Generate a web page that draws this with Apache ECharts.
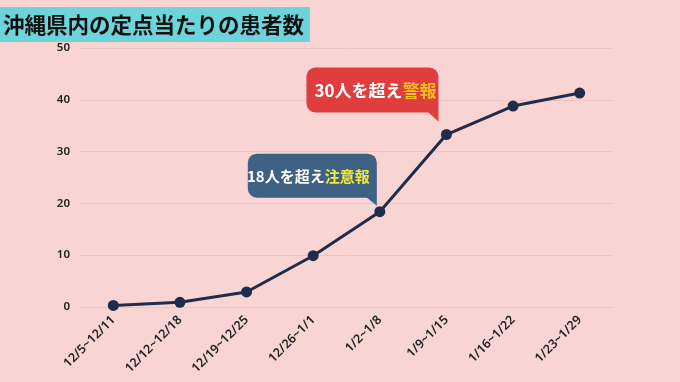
<!DOCTYPE html>
<html><head><meta charset="utf-8">
<script src="https://cdn.jsdelivr.net/npm/echarts@6/dist/echarts.min.js"></script>
<style>html,body{margin:0;padding:0;background:#f8d5d3;}#c{width:680px;height:382px;}</style>
</head><body><div id="c"></div>
<script>
var titleText = '沖縄県内の定点当たりの患者数';
var categories = ['12/5~12/11','12/12~12/18','12/19~12/25','12/26~1/1','1/2~1/8','1/9~1/15','1/16~1/22','1/23~1/29'];
var values = [0.3, 0.9, 2.9, 9.9, 18.4, 33.3, 38.8, 41.3];
var yTicks = {min: 0, max: 50, interval: 10};
var callouts = [
  {index: 4, white: '18人を超え', yellow: '注意報'},
  {index: 5, white: '30人を超え', yellow: '警報'}
];

var chart = echarts.init(document.getElementById('c'), null, {renderer: 'canvas'});
var option = {
  backgroundColor: '#f8d5d3',
  animation: false,
  title: {
    text: titleText, left: 0, top: 7,
    backgroundColor: '#6dd4dc',
    padding: [3, 6, 3, 3],
    textStyle: {fontFamily: '"Noto Sans CJK JP"', fontWeight: 'bold', fontSize: 21.5, color: '#111', lineHeight: 29}
  },
  grid: {left: 80, right: 67, top: 48, bottom: 75},
  xAxis: {
    type: 'category', data: categories, boundaryGap: true,
    axisLine: {show: false}, axisTick: {show: false},
    axisLabel: {rotate: 45, color: '#222', fontSize: 12.5, fontWeight: 600, fontFamily: '"Noto Sans"', margin: 11, interval: 0}
  },
  yAxis: {
    type: 'value', min: yTicks.min, max: yTicks.max, interval: yTicks.interval,
    axisLine: {show: false}, axisTick: {show: false},
    axisLabel: {color: '#222', fontSize: 11.5, fontWeight: 600, fontFamily: '"Noto Sans"', margin: 10},
    splitLine: {lineStyle: {color: '#efc5c3', width: 1}}
  },
  series: [{
    type: 'line', data: values,
    symbol: 'circle', symbolSize: 11,
    lineStyle: {color: '#1f2c4b', width: 3},
    itemStyle: {color: '#1f2c4b'}
  }]
};
chart.setOption(option);

var styles = [
  {fill: '#3f6184', w: 129, h: 44, dx: -3, dy: -6, fs: 15, yc: '#f2e83a'},
  {fill: '#e03d3f', w: 132, h: 45, dx: -8, dy: -13, fs: 17, yc: '#f6c21c'}
];
var elements = [];
callouts.forEach(function (c, i) {
  var p = chart.convertToPixel({seriesIndex: 0}, [c.index, values[c.index]]);
  var s = styles[i];
  var tipX = p[0] + s.dx, tipY = p[1] + s.dy;
  var right = tipX, bottom = tipY - 9 + (i === 0 ? 1 : 0);
  var left = right - s.w, top = bottom - s.h;
  elements.push({
    type: 'rect', shape: {x: left, y: top, width: s.w, height: s.h, r: [9, 9, 0, 9]},
    style: {fill: s.fill}, z: 10
  });
  elements.push({
    type: 'polygon', shape: {points: [[right - 11, bottom - 1], [right, bottom - 1], [right, tipY]]},
    style: {fill: s.fill}, z: 10
  });
  elements.push({
    type: 'text', x: left + s.w / 2 + (i === 0 ? -4 : 3), y: top + s.h / 2 + 1, z: 11,
    style: {
      text: '{w|' + c.white + '}{y|' + c.yellow + '}',
      align: 'center', verticalAlign: 'middle',
      rich: {
        w: {fill: '#ffffff', fontSize: s.fs, fontWeight: 'bold', fontFamily: '"Noto Sans CJK JP"'},
        y: {fill: s.yc, fontSize: s.fs, fontWeight: 'bold', fontFamily: '"Noto Sans CJK JP"'}
      }
    }
  });
});
chart.setOption({graphic: {elements: elements}});
</script></body></html>
